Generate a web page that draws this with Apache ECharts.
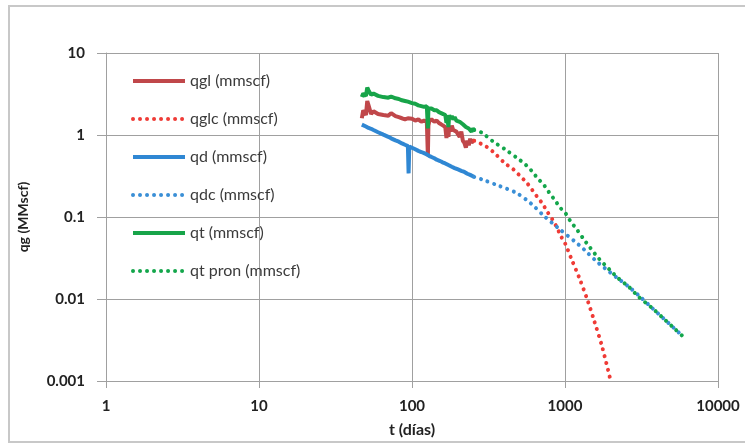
<!DOCTYPE html>
<html>
<head>
<meta charset="utf-8">
<script src="https://cdn.jsdelivr.net/npm/echarts@6/dist/echarts.min.js"></script>
<style>
  html, body { margin: 0; padding: 0; background: #fff; }
  #chart { width: 745px; height: 448px; }
</style>
</head>
<body>
<div id="chart"></div>
<script>
// datos medidos (t en días)
const tObs = [47, 48, 50, 51, 52, 54, 56, 60, 65, 70, 73, 75, 78, 82, 86, 90, 94, 95, 96, 100, 105, 110, 115, 120, 125, 127, 128, 130, 134, 140, 145, 150, 155, 160, 165, 168, 170, 173, 175, 178, 182, 186, 190, 195, 200, 205, 210, 215, 220, 225, 230, 235, 240, 245, 250, 255]
const qgl = [1.6, 2.0, 1.75, 2.6, 2.3, 1.8, 1.95, 1.8, 1.75, 1.72, 1.85, 1.95, 1.7, 1.65, 1.6, 1.55, 1.6, 1.58, 1.6, 1.58, 1.5, 1.55, 1.45, 1.5, 1.45, 0.55, 1.3, 1.5, 1.55, 1.45, 1.5, 1.4, 1.35, 1.3, 1.25, 0.92, 1.2, 0.95, 1.25, 1.1, 1.3, 1.15, 1.2, 1.1, 1.05, 0.95, 1.1, 0.85, 0.8, 0.7, 0.85, 0.75, 0.9, 0.8, 0.85, 0.85]
const qd = [1.34, 1.31, 1.27, 1.24, 1.22, 1.19, 1.15, 1.08, 1.01, 0.95, 0.91, 0.89, 0.86, 0.83, 0.79, 0.76, 0.733, 0.34, 0.725, 0.70, 0.67, 0.64, 0.62, 0.60, 0.58, 0.57, 0.565, 0.553, 0.54, 0.52, 0.50, 0.488, 0.475, 0.46, 0.45, 0.44, 0.435, 0.43, 0.427, 0.42, 0.41, 0.40, 0.395, 0.387, 0.38, 0.373, 0.366, 0.36, 0.354, 0.343, 0.337, 0.332, 0.326, 0.32, 0.314, 0.308]
const qt = [2.9, 3.2, 3.0, 3.8, 3.5, 3.1, 3.2, 3.0, 2.9, 2.85, 2.95, 3.05, 2.8, 2.75, 2.65, 2.6, 2.55, 2.55, 2.5, 2.45, 2.4, 2.3, 2.25, 2.2, 2.25, 1.2, 2.1, 2.2, 2.1, 2.0, 2.0, 1.9, 1.85, 1.8, 1.75, 1.4, 1.7, 1.25, 1.75, 1.6, 1.7, 1.55, 1.65, 1.5, 1.55, 1.45, 1.5, 1.35, 1.4, 1.25, 1.3, 1.2, 1.25, 1.1, 1.2, 1.15]

// pronósticos
const tGlc = [255, 300, 340, 405, 459, 503, 562, 606, 653, 715, 766, 831, 891, 937, 1000, 1100, 1241, 1400, 1548, 1750, 1990]
const qglc = [0.85, 0.74, 0.62, 0.452, 0.382, 0.323, 0.262, 0.218, 0.18, 0.144, 0.116, 0.092, 0.073, 0.059, 0.048, 0.031, 0.018, 0.0098, 0.0055, 0.0026, 0.001]
const tDc = [255, 285, 372, 478, 597, 729, 891, 1235, 1365, 1600, 1825, 2200, 2600, 3091, 3700, 4400, 5100, 5846]
const qdc = [0.308, 0.288, 0.239, 0.198, 0.147, 0.103, 0.075, 0.0456, 0.0385, 0.029, 0.0237, 0.018, 0.0142, 0.0107, 0.0078, 0.0058, 0.0045, 0.00356]
const tPron = [255, 285, 340, 410, 503, 556, 606, 663, 729, 789, 860, 927, 1015, 1089, 1192, 1331, 1450, 1668, 1950, 2230, 2600, 3015, 3700, 4400, 5100, 5846]
const qtPron = [1.15, 1.07, 0.83, 0.66, 0.5, 0.43, 0.364, 0.296, 0.245, 0.198, 0.16, 0.131, 0.109, 0.088, 0.071, 0.053, 0.043, 0.031, 0.023, 0.0179, 0.0142, 0.0107, 0.0078, 0.0058, 0.0045, 0.00356]

const zip = (xs, ys) => xs.map((x, i) => [x, ys[i]])
const dots = [0.01, 7]

let myChart = echarts.init(document.getElementById('chart'))
let fmt = v => String(Number(v.toPrecision(1)))

let solid = (name, xs, ys, color) => ({
  name: name,
  type: 'line',
  data: zip(xs, ys),
  symbol: 'none',
  lineStyle: { color: color, width: 4 },
  itemStyle: { color: color }
})
let dotted = (name, xs, ys, color) => ({
  name: name,
  type: 'line',
  data: zip(xs, ys),
  symbol: 'none',
  smooth: 0.3,
  lineStyle: { color: color, width: 4, type: dots, cap: 'round' },
  itemStyle: { color: color }
})

let options = {
  animation: false,
  backgroundColor: '#fff',
  graphic: [{
    type: 'rect',
    shape: { x: 9, y: 6, width: 760, height: 436 },
    style: { fill: 'none', stroke: '#c8c8c8', lineWidth: 2 },
    silent: true
  }],
  grid: { left: 106, right: 27, top: 53, bottom: 67 },
  legend: {
    orient: 'vertical',
    left: 126,
    top: 68,
    itemWidth: 52,
    itemHeight: 4,
    itemGap: 22,
    itemStyle: { opacity: 0 },
    lineStyle: { width: 4 },
    textStyle: { fontFamily: 'Lato', fontSize: 16, color: '#3b3b3b' },
    data: ['qgl (mmscf)', 'qglc (mmscf)', 'qd (mmscf)', 'qdc (mmscf)', 'qt (mmscf)', 'qt pron (mmscf)']
  },
  xAxis: {
    type: 'log',
    logBase: 10,
    min: 1,
    max: 10000,
    name: 't (días)',
    nameLocation: 'middle',
    nameGap: 41,
    nameTextStyle: { fontFamily: 'Lato', fontSize: 16, fontWeight: 'bold', color: '#222' },
    axisLine: { lineStyle: { color: '#a0a0a0', width: 1 } },
    axisTick: { show: true, length: 7, lineStyle: { color: '#a0a0a0' } },
    minorTick: { show: false },
    splitLine: { show: true, lineStyle: { color: '#a0a0a0', width: 1 } },
    axisLabel: { formatter: fmt, margin: 18, fontFamily: 'Lato', fontSize: 15, fontWeight: 'bold', color: '#222' }
  },
  yAxis: {
    type: 'log',
    logBase: 10,
    min: 0.001,
    max: 10,
    name: 'qg (MMscf)',
    nameLocation: 'middle',
    nameGap: 76,
    nameTextStyle: { fontFamily: 'Lato', fontSize: 14, fontWeight: 'bold', color: '#222' },
    axisLine: { show: true, lineStyle: { color: '#a0a0a0', width: 1 } },
    axisTick: { show: true, length: 9, lineStyle: { color: '#a0a0a0' } },
    splitLine: { show: true, lineStyle: { color: '#a0a0a0', width: 1 } },
    axisLabel: { formatter: fmt, margin: 21, fontFamily: 'Lato', fontSize: 15, fontWeight: 'bold', color: '#222' }
  },
  series: [
    solid('qgl (mmscf)', tObs, qgl, '#c0474a'),
    dotted('qglc (mmscf)', tGlc, qglc, '#ef3b36'),
    solid('qd (mmscf)', tObs, qd, '#2f87d3'),
    dotted('qdc (mmscf)', tDc, qdc, '#3a8fd6'),
    solid('qt (mmscf)', tObs, qt, '#17a449'),
    dotted('qt pron (mmscf)', tPron, qtPron, '#13a64b')
  ]
}
myChart.setOption(options)
</script>
</body>
</html>
